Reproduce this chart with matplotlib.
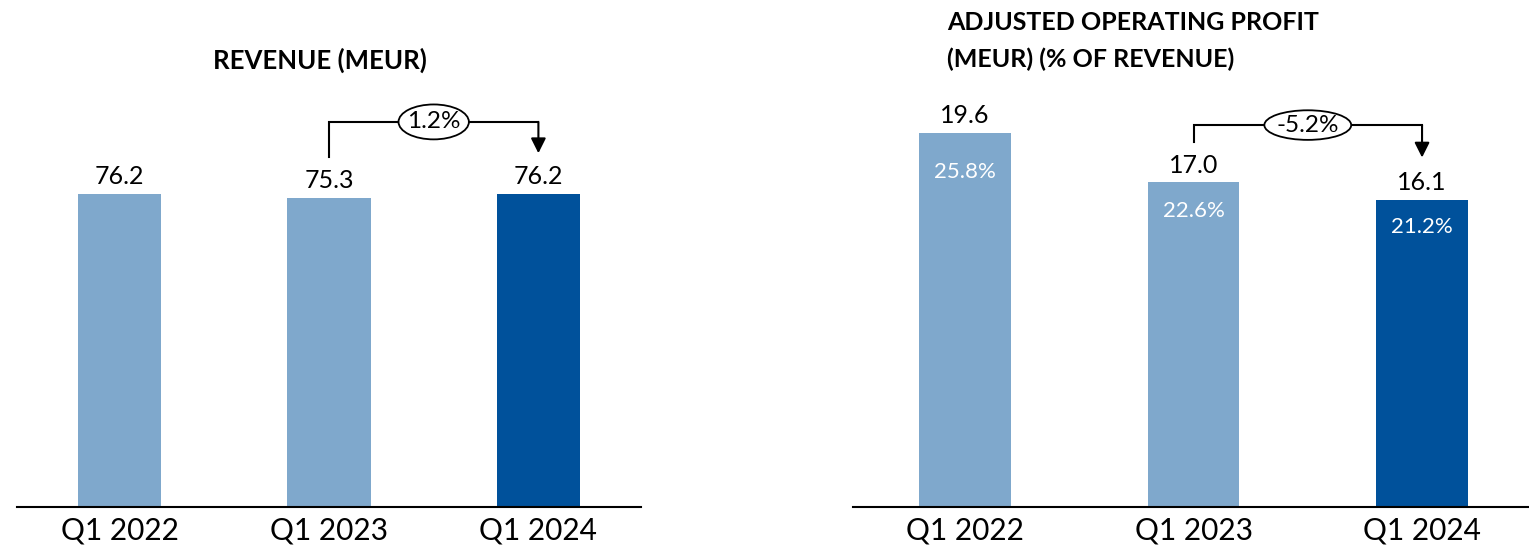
import matplotlib
matplotlib.use("Agg")
import matplotlib.pyplot as plt
from matplotlib.patches import Ellipse

plt.rcParams['font.family'] = ['Lato', 'DejaVu Sans']

categories = ["Q1 2022", "Q1 2023", "Q1 2024"]
revenue = [76.2, 75.3, 76.2]
revenue_change = "1.2%"
profit = [19.6, 17.0, 16.1]
margin = [25.8, 22.6, 21.2]
profit_change = "-5.2%"

light = "#7FA8CC"
dark = "#00519B"
colors = [light, light, dark]

W, H = 1529, 551
fig = plt.figure(figsize=(W / 100, H / 100), dpi=100)

base = (H - 507) / H
axh = 507 / H

def fx(px):
    return px / W

ax1 = fig.add_axes([fx(17), base, fx(641 - 17), axh])
ax2 = fig.add_axes([fx(853), base, fx(1529 - 853), axh])

xs = range(len(categories))

def style(ax):
    for s in ["left", "right", "top"]:
        ax.spines[s].set_visible(False)
    ax.spines["bottom"].set_linewidth(1.5)
    ax.spines["bottom"].set_color("black")
    ax.set_yticks([])
    ax.set_xticks(list(xs))
    ax.set_xticklabels(categories, fontsize=21.5)
    ax.tick_params(axis="x", length=0, pad=7)

# Left: revenue
ax1.bar(xs, revenue, width=0.40, color=colors)
ax1.set_xlim(-0.49, 2.49)
ax1.set_ylim(0, 123.4)
style(ax1)
for i, v in enumerate(revenue):
    ax1.annotate(f"{v:.1f}", (i, v), xytext=(0, 4), textcoords="offset points",
                 ha="center", va="bottom", fontsize=18)

def bracket(ax, x0, x1, ylow, yhigh, ytip, label, ew, eh):
    ax.plot([x0, x0, x1, x1], [ylow, yhigh, yhigh, yhigh], color="black", lw=1.5,
            solid_joinstyle="miter", clip_on=False)
    ax.annotate("", xy=(x1, ytip), xytext=(x1, yhigh + 0.0),
                arrowprops=dict(arrowstyle="-|>,head_length=0.9,head_width=0.45",
                                color="black", lw=1.5, shrinkA=0, shrinkB=0),
                annotation_clip=False)
    xm = (x0 + x1) / 2
    ax.add_patch(Ellipse((xm, yhigh), ew, eh, facecolor="white", edgecolor="black",
                         lw=1.3, zorder=5, clip_on=False))
    ax.text(xm, yhigh, label, ha="center", va="center", fontsize=17.5, zorder=6)

bracket(ax1, 1, 2, revenue[1] * 1.13, max(revenue) * 1.23, revenue[2] * 1.13,
        revenue_change, 0.336, 8.5)

# Right: adjusted operating profit
ax2.bar(xs, profit, width=0.40, color=colors)
ax2.set_xlim(-0.49, 2.468)
ax2.set_ylim(0, 26.55)
style(ax2)
for i, v in enumerate(profit):
    ax2.annotate(f"{v:.1f}", (i, v), xytext=(0, 4), textcoords="offset points",
                 ha="center", va="bottom", fontsize=18)

ax2b = ax2.twinx()
ax2b.set_ylim(-2.17, 40.2)
ax2b.set_xlim(ax2.get_xlim())
ax2b.axis("off")
for i, m in enumerate(margin):
    ax2b.text(i, m, f"{m:.1f}%", ha="center", va="center", fontsize=16, color="white")

bracket(ax2, 1, 2, 19.1, 20.0, 18.3, profit_change, 0.38, 1.55)

# Titles
fig.text(fx(320), 1 - 60 / H, "REVENUE (MEUR)", ha="center", va="center",
         fontsize=18.5, fontweight="bold")
fig.text(fx(947), 1 - 41 / H, "ADJUSTED OPERATING PROFIT\n(MEUR) (% OF REVENUE)",
         ha="left", va="center", fontsize=18, fontweight="bold", linespacing=1.7)

fig.savefig("out.png", dpi=100)
